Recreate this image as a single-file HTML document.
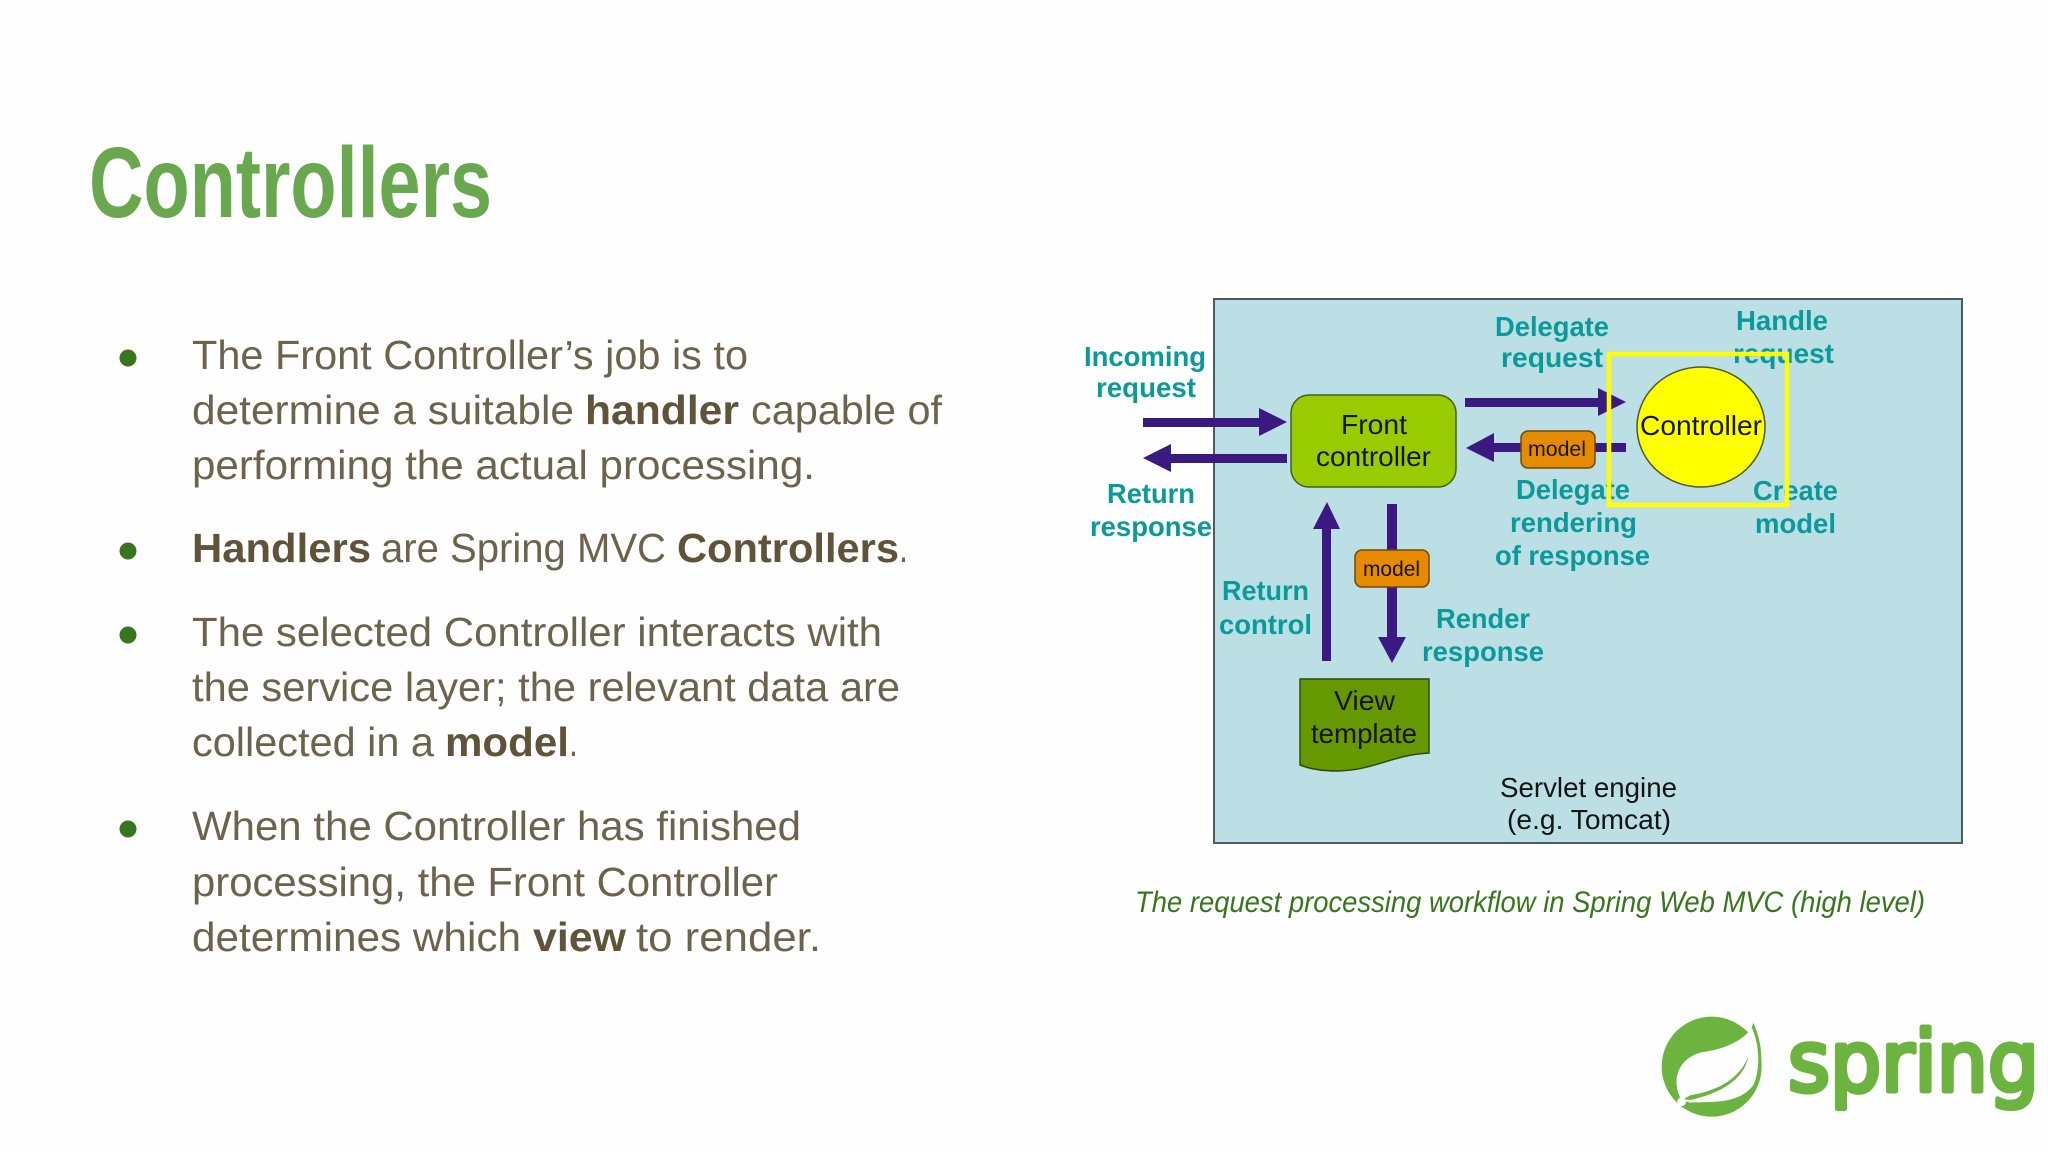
<!DOCTYPE html>
<html><head><meta charset="utf-8"><title>Controllers</title>
<style>
html,body{margin:0;padding:0;background:#fefefe;width:2048px;height:1152px;overflow:hidden}
svg{display:block}
text{font-family:"Liberation Sans",sans-serif}
.b text{font-size:41px;fill:#6b634c}
.b .s{font-weight:bold;fill:#5f5439}
.t text{font-size:27.5px;font-weight:bold;fill:#0b9a9a}
.k text{font-size:28px;fill:#141414}
</style></head><body>
<svg width="2048" height="1152" viewBox="0 0 2048 1152" xmlns="http://www.w3.org/2000/svg">
<rect width="2048" height="1152" fill="#fefefe"/>
<text x="89" y="217" font-size="100" font-weight="bold" fill="#6aa84f" style="font-family:'Liberation Sans Narrow','Liberation Sans',sans-serif" textLength="403" lengthAdjust="spacingAndGlyphs">Controllers</text>

<g fill="#38761d"><circle cx="128" cy="358" r="8.5"/><circle cx="128" cy="551" r="8.5"/><circle cx="128" cy="635" r="8.5"/><circle cx="128" cy="829" r="8.5"/></g>
<g class="b">
<text x="192" y="369" textLength="556" lengthAdjust="spacingAndGlyphs">The Front Controller’s job is to</text>
<text x="192" y="424" textLength="382" lengthAdjust="spacingAndGlyphs">determine a suitable</text>
<text class="s" x="585" y="424" textLength="154" lengthAdjust="spacingAndGlyphs">handler</text>
<text x="751" y="424" textLength="191" lengthAdjust="spacingAndGlyphs">capable of</text>
<text x="192" y="479" textLength="623" lengthAdjust="spacingAndGlyphs">performing the actual processing.</text>
<text class="s" x="192" y="562" textLength="179" lengthAdjust="spacingAndGlyphs">Handlers</text>
<text x="381" y="562" textLength="285" lengthAdjust="spacingAndGlyphs">are Spring MVC</text>
<text class="s" x="677" y="562" textLength="222" lengthAdjust="spacingAndGlyphs">Controllers</text>
<text x="899" y="562" textLength="9" lengthAdjust="spacingAndGlyphs">.</text>
<text x="192" y="646" textLength="690" lengthAdjust="spacingAndGlyphs">The selected Controller interacts with</text>
<text x="192" y="701" textLength="708" lengthAdjust="spacingAndGlyphs">the service layer; the relevant data are</text>
<text x="192" y="756" textLength="242" lengthAdjust="spacingAndGlyphs">collected in a</text>
<text class="s" x="445" y="756" textLength="124" lengthAdjust="spacingAndGlyphs">model</text>
<text x="569" y="756" textLength="9" lengthAdjust="spacingAndGlyphs">.</text>
<text x="192" y="840" textLength="609" lengthAdjust="spacingAndGlyphs">When the Controller has finished</text>
<text x="192" y="896" textLength="586" lengthAdjust="spacingAndGlyphs">processing, the Front Controller</text>
<text x="192" y="951" textLength="329" lengthAdjust="spacingAndGlyphs">determines which</text>
<text class="s" x="533" y="951" textLength="93" lengthAdjust="spacingAndGlyphs">view</text>
<text x="636" y="951" textLength="185" lengthAdjust="spacingAndGlyphs">to render.</text>
</g>

<!-- diagram -->
<rect x="1214" y="299" width="748" height="544" fill="#bbdfe4" stroke="#4c5c62" stroke-width="2"/>

<!-- arrows -->
<g fill="#3a1a80">
<polygon points="1143,418 1259,418 1259,408 1287,422 1259,436 1259,427 1143,427"/>
<polygon points="1287,454 1171,454 1171,444 1143,458 1171,472 1171,463 1287,463"/>
<polygon points="1465,398 1598,398 1598,388 1626,402 1598,416 1598,407 1465,407"/>
<polygon points="1626,443 1494,443 1494,433 1466,448 1494,462 1494,452 1626,452"/>
<polygon points="1322,661 1322,529 1313,529 1327,502 1340,529 1331,529 1331,661"/>
<polygon points="1387,504 1387,637 1378,637 1392,663 1406,637 1397,637 1397,504"/>
</g>

<!-- shapes -->
<rect x="1291" y="395" width="165" height="92" rx="18" fill="#99cc00" stroke="#44601c" stroke-width="1.5"/>
<ellipse cx="1701" cy="427" rx="64" ry="60" fill="#ffff00" stroke="#4d5a2c" stroke-width="1.5"/>
<rect x="1521" y="431" width="74" height="37" rx="7" fill="#e68a00" stroke="#6d4a10" stroke-width="1.5"/>
<rect x="1355" y="550" width="74" height="37" rx="7" fill="#e68a00" stroke="#6d4a10" stroke-width="1.5"/>
<path d="M1300,679 H1429 V753 C1392,755 1375,770 1338,771 C1323,771 1310,769 1300,765 Z" fill="#669900" stroke="#2f4a10" stroke-width="1.5"/>

<!-- black labels -->
<g class="k">
<text x="1341" y="434" textLength="66" lengthAdjust="spacingAndGlyphs">Front</text>
<text x="1316" y="466" textLength="115" lengthAdjust="spacingAndGlyphs">controller</text>
<text x="1640" y="435" textLength="122" lengthAdjust="spacingAndGlyphs">Controller</text>
<text x="1334" y="710" textLength="61" lengthAdjust="spacingAndGlyphs">View</text>
<text x="1311" y="743" textLength="106" lengthAdjust="spacingAndGlyphs">template</text>
<text x="1500" y="797" textLength="177" lengthAdjust="spacingAndGlyphs">Servlet engine</text>
<text x="1507" y="829" textLength="164" lengthAdjust="spacingAndGlyphs">(e.g. Tomcat)</text>
<text x="1528" y="456" textLength="58" lengthAdjust="spacingAndGlyphs" style="font-size:21px">model</text>
<text x="1363" y="576" textLength="57" lengthAdjust="spacingAndGlyphs" style="font-size:21px">model</text>
</g>

<!-- teal labels -->
<g class="t">
<text x="1084" y="366" textLength="122" lengthAdjust="spacingAndGlyphs">Incoming</text>
<text x="1096" y="397" textLength="100" lengthAdjust="spacingAndGlyphs">request</text>
<text x="1107" y="503" textLength="88" lengthAdjust="spacingAndGlyphs">Return</text>
<text x="1090" y="536" textLength="122" lengthAdjust="spacingAndGlyphs">response</text>
<text x="1495" y="336" textLength="114" lengthAdjust="spacingAndGlyphs">Delegate</text>
<text x="1501" y="367" textLength="102" lengthAdjust="spacingAndGlyphs">request</text>
<text x="1736" y="330" textLength="92" lengthAdjust="spacingAndGlyphs">Handle</text>
<text x="1733" y="363" textLength="101" lengthAdjust="spacingAndGlyphs">request</text>
<text x="1516" y="499" textLength="114" lengthAdjust="spacingAndGlyphs">Delegate</text>
<text x="1510" y="532" textLength="127" lengthAdjust="spacingAndGlyphs">rendering</text>
<text x="1495" y="565" textLength="155" lengthAdjust="spacingAndGlyphs">of response</text>
<text x="1753" y="500" textLength="85" lengthAdjust="spacingAndGlyphs">Create</text>
<text x="1755" y="533" textLength="81" lengthAdjust="spacingAndGlyphs">model</text>
<text x="1222" y="600" textLength="87" lengthAdjust="spacingAndGlyphs">Return</text>
<text x="1219" y="634" textLength="93" lengthAdjust="spacingAndGlyphs">control</text>
<text x="1436" y="628" textLength="94" lengthAdjust="spacingAndGlyphs">Render</text>
<text x="1422" y="661" textLength="122" lengthAdjust="spacingAndGlyphs">response</text>
</g>

<!-- yellow highlight -->
<rect x="1609" y="354" width="178" height="151" fill="none" stroke="#ffff00" stroke-width="4.5"/>

<!-- caption -->
<text x="1135" y="912" font-size="30" font-style="italic" fill="#38761d" textLength="790" lengthAdjust="spacingAndGlyphs">The request processing workflow in Spring Web MVC (high level)</text>

<!-- logo -->
<g transform="translate(1640,1000) scale(0.3333)">
<circle cx="215" cy="200" r="150" fill="#6db33f"/>
<path d="M340,68 C368,130 372,200 350,250 L300,200 Z" fill="#6db33f"/>
<path d="M336,84 C300,132 235,150 190,156 C140,165 105,205 110,255 C112,275 118,290 125,300 L150,308 C205,304 300,316 342,252 C362,200 358,135 336,84 Z" fill="#fefefe"/>
<path d="M325,170 C300,232 240,272 150,286 L128,298 L152,300 C240,280 312,240 325,170 Z" fill="#6db33f"/>
<circle cx="125" cy="305" r="13" fill="#fefefe"/>
</g>
<text x="1788" y="1091" font-size="84" fill="#6db33f" stroke="#6db33f" stroke-width="5" stroke-linejoin="round" style="font-family:'DejaVu Sans',sans-serif" textLength="251" lengthAdjust="spacingAndGlyphs">spring</text>
</svg>
</body></html>
